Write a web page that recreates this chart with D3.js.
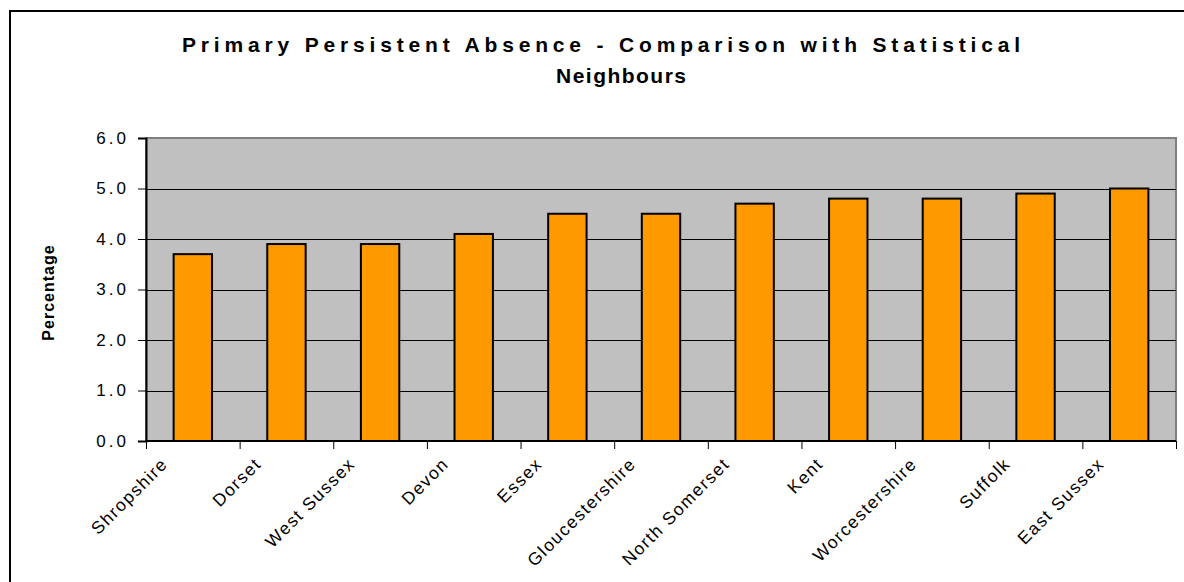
<!DOCTYPE html>
<html>
<head>
<meta charset="utf-8">
<script src="https://cdn.jsdelivr.net/npm/d3@7"></script>
<style>
  html, body { margin: 0; padding: 0; background: #fff; }
  svg { display: block; font-family: "Liberation Sans", Arial, sans-serif; }
</style>
</head>
<body>
<div id="chart"></div>
<script>
// Chart data
let authorities = ["Shropshire", "Dorset", "West Sussex", "Devon", "Essex", "Gloucestershire",
                   "North Somerset", "Kent", "Worcestershire", "Suffolk", "East Sussex"];
let absence = [3.7, 3.9, 3.9, 4.1, 4.5, 4.5, 4.7, 4.8, 4.8, 4.9, 5.0];
let yTicks = [0, 1, 2, 3, 4, 5, 6];
let titleLines = ["Primary Persistent Absence - Comparison with Statistical", "Neighbours"];
let yTitle = "Percentage";

let width = 1184;
let height = 582;

// plot area
let plotLeft = 146, plotRight = 1176, plotTop = 138, plotBottom = 441;

let svg = d3.select('#chart')
.append('svg')
.attr('width', width)
.attr('height', height);

// outer frame (runs off the right and bottom edges)
svg.append('rect')
.attr('x', 10)
.attr('y', 11)
.attr('width', 1220)
.attr('height', 620)
.attr('fill', 'none')
.attr('stroke', '#000')
.attr('stroke-width', 2);

// title, spread out like the original
let title = svg.append('g')
.style('font-size', '21px')
.style('font-weight', 'bold');
title.append('text')
.attr('x', 182).attr('y', 52)
.attr('textLength', 838)
.attr('lengthAdjust', 'spacing')
.text(titleLines[0]);
title.append('text')
.attr('x', 556).attr('y', 83)
.attr('textLength', 130)
.attr('lengthAdjust', 'spacing')
.text(titleLines[1]);

// scales
let xBand = d3.scaleBand()
.domain(authorities)
.range([plotLeft, plotRight])
.padding(0);

let xBar = d3.scaleBand()
.domain(authorities)
.range([plotLeft, plotRight])
.paddingInner(0.59)
.paddingOuter(0.295);

let y = d3.scaleLinear()
.domain([0, 6])
.range([plotBottom, plotTop]);

// plot background
svg.append('rect')
.attr('x', plotLeft).attr('y', plotTop)
.attr('width', plotRight - plotLeft).attr('height', plotBottom - plotTop)
.attr('fill', '#c0c0c0')
.attr('stroke', '#808080')
.attr('stroke-width', 2);

// gridlines
svg.append('g')
.selectAll('line')
.data(yTicks.filter(function(d){ return d > 0 && d < 6; }))
.enter()
.append('line')
.attr('x1', plotLeft).attr('x2', plotRight)
.attr('y1', function(d){ return Math.round(y(d)) + 0.5; })
.attr('y2', function(d){ return Math.round(y(d)) + 0.5; })
.attr('stroke', '#000')
.attr('stroke-width', 1);

// bars
svg.append('g')
.selectAll('rect')
.data(absence)
.enter()
.append('rect')
.attr('x', function(d, i){ return xBar(authorities[i]); })
.attr('y', function(d){ return y(d); })
.attr('width', xBar.bandwidth())
.attr('height', function(d){ return y(0) - y(d); })
.attr('fill', '#ff9900')
.attr('stroke', '#000')
.attr('stroke-width', 2);

// y axis
let yAxis = d3.axisLeft(y)
.tickValues(yTicks)
.tickSize(8)
.tickPadding(12)
.tickFormat(d3.format('.1f'));

let gy = svg.append('g')
.attr('transform', 'translate(' + plotLeft + ',0)')
.call(yAxis);
gy.select('.domain').attr('stroke', '#000').attr('stroke-width', 2);
gy.selectAll('.tick line').attr('stroke', '#000');
gy.selectAll('.tick text')
.style('font-size', '17px')
.style('font-family', '"Liberation Sans", Arial, sans-serif')
.style('letter-spacing', '3px')
.attr('fill', '#000')
.attr('dx', 3);

// x axis: ticks at category boundaries
let tickPos = xBand.domain().map(function(d){ return xBand(d); }).concat([plotRight]);
let gx = svg.append('g');
gx.append('line')
.attr('x1', plotLeft).attr('x2', plotRight)
.attr('y1', plotBottom).attr('y2', plotBottom)
.attr('stroke', '#000').attr('stroke-width', 2);
gx.selectAll('.xtick')
.data(tickPos)
.enter()
.append('line')
.attr('class', 'xtick')
.attr('x1', function(d){ return d + 0.5; })
.attr('x2', function(d){ return d + 0.5; })
.attr('y1', plotBottom).attr('y2', plotBottom + 8)
.attr('stroke', '#000');

gx.selectAll('.xlabel')
.data(authorities)
.enter()
.append('text')
.attr('class', 'xlabel')
.attr('transform', function(d){
    let cx = xBand(d) + xBand.bandwidth() / 2 - 24;
    return 'translate(' + cx + ',' + (plotBottom + 24) + ') rotate(-45)';
})
.attr('text-anchor', 'end')
.style('font-size', '17.5px')
.style('letter-spacing', '1.5px')
.text(function(d){ return d; });

// y axis title
svg.append('text')
.attr('transform', 'translate(54,' + ((plotTop + plotBottom) / 2 + 3) + ') rotate(-90)')
.attr('text-anchor', 'middle')
.style('font-size', '16px')
.style('font-weight', 'bold')
.style('letter-spacing', '1px')
.text(yTitle);
</script>
</body>
</html>
